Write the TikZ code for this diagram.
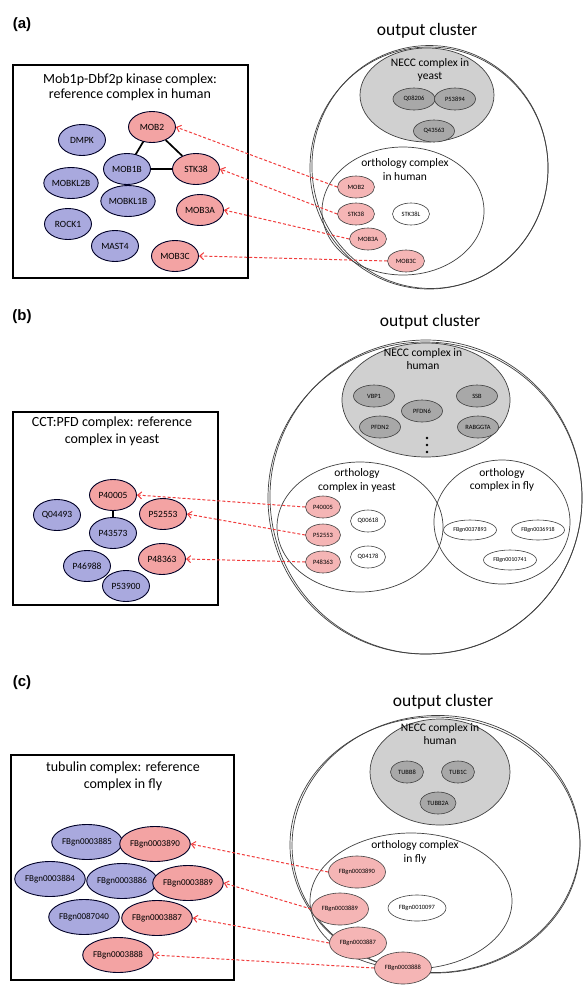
\documentclass[tikz,border=0pt]{standalone}
\usepackage{fontspec}
\setmainfont{Carlito}
\newfontfamily\panelfont{Liberation Sans}
\usetikzlibrary{arrows.meta,shapes.geometric}
\definecolor{refblue}{HTML}{A9A9DE}
\definecolor{refpink}{HTML}{F3A3A3}
\definecolor{hitpink}{HTML}{F5B5B5}
\definecolor{neccgray}{HTML}{D0D0D0}
\definecolor{protgray}{HTML}{A8A8A8}
\definecolor{maplink}{HTML}{F03C3C}
\tikzset{
  refprot/.style={ellipse,draw=black!85!blue,line width=0.9pt,inner sep=0pt,
    minimum width=47,minimum height=31,font=\fontsize{9.5}{10}\selectfont},
  flyprot/.style={refprot,minimum width=62,minimum height=35,font=\fontsize{9}{10}\selectfont},
  hitprot/.style={ellipse,draw=black!75,line width=0.6pt,inner sep=0pt,
    minimum width=37,minimum height=22,font=\fontsize{6.5}{7}\selectfont},
  setline/.style={ellipse,draw=black!75,line width=0.7pt,inner sep=0pt},
  settext/.style={font=\fontsize{11.5}{12}\selectfont},
  boxtitle/.style={font=\fontsize{14}{15}\selectfont},
  clustertitle/.style={font=\fontsize{17.5}{18}\selectfont},
  panellabel/.style={font=\panelfont\bfseries\fontsize{15}{16}\selectfont},
  reflink/.style={line width=1.7pt},
  maparrow/.style={maplink,dash pattern=on 3pt off 2pt,line width=1pt,-{Straight Barb[length=4pt,width=7pt]}}
}
\begin{document}
\begin{tikzpicture}[x=1pt,y=-1pt]
  \useasboundingbox (0,0) rectangle (583,1004);

  % (a) reference complex in human
  \node[panellabel] (labA) at (22,25) {(a)};
  \node[draw,line width=1.4pt,minimum width=235,minimum height=213,inner sep=0pt] (boxA) at (130.5,171.5) {};
  \node[boxtitle] (titA1) at (130,80) {Mob1p-Dbf2p kinase complex:};
  \node[boxtitle] (titA2) at (130,95) {reference complex in human};
  \node[refprot,fill=refpink] (aMOB2) at (152,127) {MOB2};
  \node[refprot,fill=refblue] (aDMPK) at (82,140) {DMPK};
  \node[refprot,fill=refblue] (aMOB1B) at (127,169) {MOB1B};
  \node[refprot,fill=refpink] (aSTK38) at (196,169) {STK38};
  \node[refprot,fill=refblue] (aMOBKL2B) at (71,183) {MOBKL2B};
  \node[refprot,fill=refblue] (aMOBKL1B) at (128,201) {MOBKL1B};
  \node[refprot,fill=refpink] (aMOB3A) at (200,210) {MOB3A};
  \node[refprot,fill=refblue] (aROCK1) at (68,224) {ROCK1};
  \node[refprot,fill=refblue] (aMAST4) at (115,246) {MAST4};
  \node[refprot,fill=refpink] (aMOB3C) at (175,256) {MOB3C};
  \draw[reflink] (aMOB2) -- (aMOB1B);
  \draw[reflink] (aMOB2) -- (aSTK38);
  \draw[reflink] (aMOB1B) -- (aSTK38);

  % (a) output cluster
  \node[clustertitle] (outA) at (427,31) {output cluster};
  \node[setline,minimum width=238,minimum height=242] (cluA) at (429,168) {};
  \node[setline,minimum width=236,minimum height=243,rotate=6] (cluA2) at (430,167) {};
  \node[setline,fill=neccgray,minimum width=134,minimum height=94] (neccA) at (427,95) {};
  \node[settext] (neccA1) at (430,63) {NECC complex in};
  \node[settext] (neccA2) at (430,77) {yeast};
  \node[hitprot,fill=protgray,minimum width=42] (nQ08206) at (414,99) {Q08206};
  \node[hitprot,fill=protgray,minimum width=41] (nP53894) at (455,99) {P53894};
  \node[hitprot,fill=protgray,minimum width=41] (nQ43563) at (434,131) {Q43563};
  \node[setline,minimum width=162,minimum height=128] (orthA) at (403,211) {};
  \node[settext] (orthA1) at (405,163) {orthology complex};
  \node[settext] (orthA2) at (405,177) {in human};
  \node[hitprot,fill=hitpink] (rMOB2) at (356,187) {MOB2};
  \node[hitprot,fill=hitpink] (rSTK38) at (356,214) {STK38};
  \node[hitprot,fill=white] (rSTK38L) at (411,214) {STK38L};
  \node[hitprot,fill=hitpink] (rMOB3A) at (368,239) {MOB3A};
  \node[hitprot,fill=hitpink] (rMOB3C) at (406,261) {MOB3C};
  \draw[maparrow] (rMOB2.west) -- (aMOB2.east);
  \draw[maparrow] (rSTK38.west) -- (aSTK38.east);
  \draw[maparrow] (rMOB3A.west) -- (aMOB3A.east);
  \draw[maparrow] (rMOB3C.west) -- (aMOB3C.east);

  % (b) reference complex in yeast
  \node[panellabel] (labB) at (22,317) {(b)};
  \node[draw,line width=1.4pt,minimum width=205,minimum height=193,inner sep=0pt] (boxB) at (115.5,508.5) {};
  \node[boxtitle] (titB1) at (112,423) {CCT:PFD complex: reference};
  \node[boxtitle] (titB2) at (112,440) {complex in yeast};
  \node[refprot,fill=refpink] (bP40005) at (113,495) {P40005};
  \node[refprot,fill=refblue] (bQ04493) at (57,515) {Q04493};
  \node[refprot,fill=refpink] (bP52553) at (163,514) {P52553};
  \node[refprot,fill=refblue] (bP43573) at (113,533) {P43573};
  \node[refprot,fill=refblue] (bP46988) at (87,566) {P46988};
  \node[refprot,fill=refpink] (bP48363) at (162,559) {P48363};
  \node[refprot,fill=refblue] (bP53900) at (126,586) {P53900};
  \draw[reflink] (bP40005) -- (bP43573);

  % (b) output cluster
  \node[clustertitle] (outB) at (430,322) {output cluster};
  \node[setline,minimum width=314,minimum height=312] (cluB) at (425,498) {};
  \node[setline,minimum width=312,minimum height=314,rotate=5] (cluB2) at (426,497) {};
  \node[setline,fill=neccgray,minimum width=168,minimum height=114] (neccB) at (426,400) {};
  \node[settext] (neccB1) at (423,353) {NECC complex in};
  \node[settext] (neccB2) at (423,366) {human};
  \node[hitprot,fill=protgray,minimum width=41] (nVBP1) at (374,396) {VBP1};
  \node[hitprot,fill=protgray,minimum width=41] (nSSB) at (477,396) {SSB};
  \node[hitprot,fill=protgray,minimum width=41] (nPFDN6) at (422,411) {PFDN6};
  \node[hitprot,fill=protgray,minimum width=41] (nPFDN2) at (380,427) {PFDN2};
  \node[hitprot,fill=protgray,minimum width=41] (nRABGGTA) at (478,427) {RABGGTA};
  \fill (427,438) circle (1.4) (427,445) circle (1.4) (427,452) circle (1.4);
  \node[setline,minimum width=166,minimum height=130] (orthB) at (360,527) {};
  \node[settext] (orthB1) at (357,473) {orthology};
  \node[settext] (orthB2) at (357,487) {complex in yeast};
  \node[hitprot,fill=hitpink,minimum width=35] (rP40005) at (323,507) {P40005};
  \node[hitprot,fill=hitpink,minimum width=35] (rP52553) at (323,535) {P52553};
  \node[hitprot,fill=hitpink,minimum width=35] (rP48363) at (323,562) {P48363};
  \node[hitprot,fill=white,minimum width=35] (rQ00618) at (368,521) {Q00618};
  \node[hitprot,fill=white,minimum width=35] (rQ04178) at (368,557) {Q04178};
  \node[setline,minimum width=136,minimum height=124] (orthB3) at (502,522) {};
  \node[settext] (orthB4) at (502,473) {orthology};
  \node[settext] (orthB5) at (502,486) {complex in fly};
  \node[hitprot,fill=white,minimum width=53,minimum height=20,font=\fontsize{6}{6}\selectfont] (rFBgn0037893) at (470,530) {FBgn0037893};
  \node[hitprot,fill=white,minimum width=53,minimum height=20,font=\fontsize{6}{6}\selectfont] (rFBgn0036918) at (538,530) {FBgn0036918};
  \node[hitprot,fill=white,minimum width=53,minimum height=20,font=\fontsize{6}{6}\selectfont] (rFBgn0010741) at (510,560) {FBgn0010741};
  \draw[maparrow] (rP40005.west) -- (bP40005.east);
  \draw[maparrow] (rP52553.west) -- (bP52553.east);
  \draw[maparrow] (rP48363.west) -- (bP48363.east);

  % (c) reference complex in fly
  \node[panellabel] (labC) at (22,683) {(c)};
  \node[draw,line width=1.4pt,minimum width=223,minimum height=225,inner sep=0pt] (boxC) at (122.5,867.5) {};
  \node[boxtitle] (titC1) at (123,768) {tubulin complex: reference};
  \node[boxtitle] (titC2) at (123,785) {complex in fly};
  \node[flyprot,fill=refblue] (cFBgn0003885) at (87,842) {FBgn0003885};
  \node[flyprot,fill=refpink] (cFBgn0003890) at (155,844) {FBgn0003890};
  \node[flyprot,fill=refblue] (cFBgn0003884) at (50,879) {FBgn0003884};
  \node[flyprot,fill=refblue] (cFBgn0003886) at (122,881) {FBgn0003886};
  \node[flyprot,fill=refpink] (cFBgn0003889) at (188,883) {FBgn0003889};
  \node[flyprot,fill=refblue] (cFBgn0087040) at (84,917) {FBgn0087040};
  \node[flyprot,fill=refpink] (cFBgn0003887) at (157,918) {FBgn0003887};
  \node[flyprot,fill=refpink] (cFBgn0003888) at (118,955) {FBgn0003888};

  % (c) output cluster
  \node[clustertitle] (outC) at (443,702) {output cluster};
  \node[setline,minimum width=290,minimum height=256] (cluC) at (435,845) {};
  \node[setline,minimum width=288,minimum height=257,rotate=3] (cluC2) at (436,844) {};
  \node[setline,fill=neccgray,minimum width=140,minimum height=106] (neccC) at (440,772) {};
  \node[settext] (neccC1) at (440,728) {NECC complex in};
  \node[settext] (neccC2) at (440,741) {human};
  \node[hitprot,fill=protgray,minimum width=33] (nTUBB8) at (407,772) {TUBB8};
  \node[hitprot,fill=protgray,minimum width=33] (nTUB1C) at (458,772) {TUB1C};
  \node[hitprot,fill=protgray,minimum width=36] (nTUBB2A) at (438,803) {TUBB2A};
  \node[setline,minimum width=202,minimum height=136] (orthC) at (411,901) {};
  \node[settext] (orthC1) at (415,845) {orthology complex};
  \node[settext] (orthC2) at (415,859) {in fly};
  \node[hitprot,fill=hitpink,minimum width=57,minimum height=32] (rFBgn0003890) at (357,872) {FBgn0003890};
  \node[hitprot,fill=hitpink,minimum width=57,minimum height=32] (rFBgn0003889) at (340,909) {FBgn0003889};
  \node[hitprot,fill=white,minimum width=58,minimum height=26] (rFBgn0010097) at (417,908) {FBgn0010097};
  \node[hitprot,fill=hitpink,minimum width=57,minimum height=32] (rFBgn0003887) at (358,943) {FBgn0003887};
  \node[hitprot,fill=hitpink,minimum width=57,minimum height=32] (rFBgn0003888) at (403,968) {FBgn0003888};
  \draw[maparrow] (rFBgn0003890.west) -- (cFBgn0003890.east);
  \draw[maparrow] (rFBgn0003889.west) -- (cFBgn0003889.east);
  \draw[maparrow] (rFBgn0003887.west) -- (cFBgn0003887.east);
  \draw[maparrow] (rFBgn0003888.west) -- (cFBgn0003888.east);
\end{tikzpicture}
\end{document}
